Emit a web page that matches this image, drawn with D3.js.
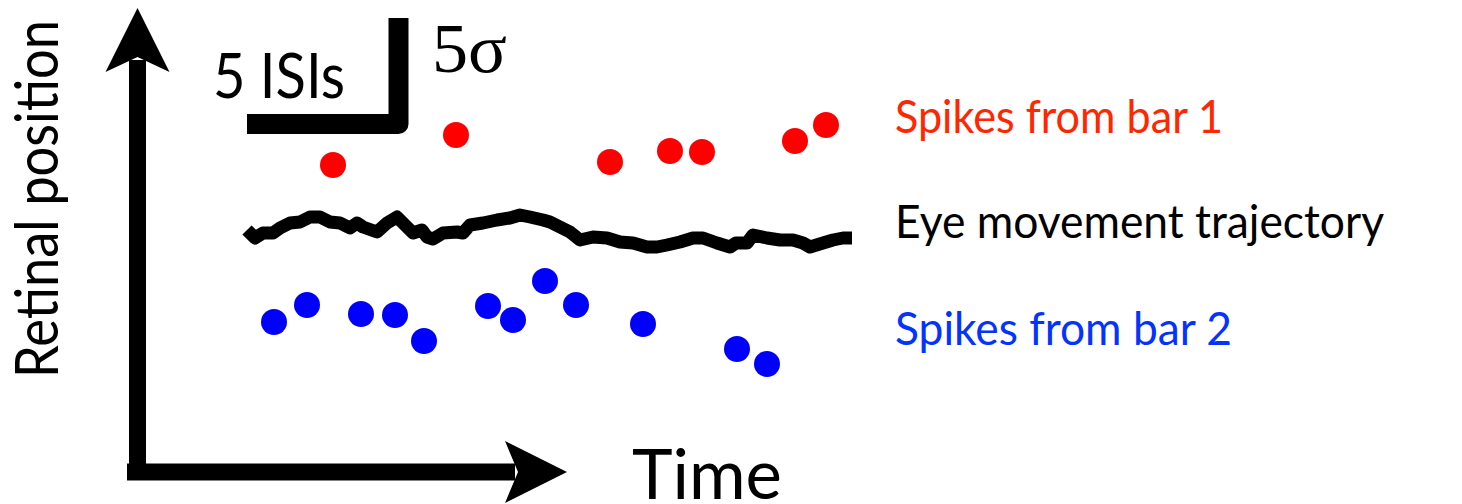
<!DOCTYPE html>
<html>
<head>
<meta charset="utf-8">
<script src="https://cdn.jsdelivr.net/npm/d3@7"></script>
<style>
  body { margin: 0; background: #fff; }
  svg { display: block; }
  text { font-family: Lato, "Open Sans", sans-serif; }
</style>
</head>
<body>
<script>
const width = 1462;
const height = 504;

// spike times (arbitrary time units) and retinal positions
const bar1Times = [8.6, 20.9, 36.3, 42.3, 45.5, 54.8, 57.9];
const bar1Pos   = [30.7, 33.7, 31.0, 32.1, 32.0, 33.1, 34.7];

const bar2Times = [2.7, 6.0, 11.4, 14.8, 17.7, 24.1, 26.6, 29.8, 32.9, 39.6, 49.0, 52.0];
const bar2Pos   = [15.0, 16.7, 15.8, 15.7, 13.1, 16.6, 15.2, 19.1, 16.7, 14.8, 12.3, 10.8];

// eye trajectory
const eyeTimes = [0, 0.8, 1.6, 2.6, 3.3, 4.3, 5.3, 6.3, 7.3, 8.3, 9.3, 10.3, 11.0, 11.6, 13.0,
  14.0, 15.0, 15.6, 16.6, 17.5, 18.0, 18.6, 19.6, 21.0, 21.6, 22.3, 23.6, 25.0, 26.3, 27.3,
  28.3, 29.6, 30.3, 31.3, 32.3, 33.3, 34.6, 36.0, 37.3, 38.6, 40.0, 41.0, 42.0, 43.3, 44.6,
  45.6, 47.0, 48.3, 48.9, 50.0, 50.6, 52.0, 53.3, 54.6, 55.6, 56.3, 57.6, 58.6, 59.6, 60.5];
const eyePos = [24.2, 23.4, 23.9, 23.9, 24.4, 24.9, 25.0, 25.5, 25.5, 25.0, 24.9, 24.4, 24.9, 24.5, 24.0,
  24.9, 25.5, 24.9, 23.9, 24.2, 23.5, 23.3, 23.9, 24.0, 23.9, 24.7, 24.9, 25.2, 25.4, 25.7,
  25.5, 25.2, 25.0, 24.5, 24.0, 23.2, 23.5, 23.4, 23.0, 22.9, 22.5, 22.5, 22.7, 23.0, 23.4,
  23.4, 22.9, 22.5, 22.9, 22.9, 23.7, 23.4, 23.2, 23.2, 22.9, 22.5, 22.9, 23.2, 23.4, 23.4];

const legendLabels = ["Spikes from bar 1", "Eye movement trajectory", "Spikes from bar 2"];
const legendColors = ["#ff2600", "#000000", "#0433ff"];
const legendWidths = [328, 489, 337];

const svg = d3.select("body")
    .append("svg")
    .attr("width", width)
    .attr("height", height);

const x = d3.scaleLinear().domain([0, 61]).range([247, 857]);
const y = d3.scaleLinear().domain([0, 45]).range([472, 22]);

// axes with arrow heads
const axisX0 = 137.5, axisY0 = 472;
svg.append("path")
    .attr("d", `M${axisX0},480 V60`)
    .attr("stroke", "#000").attr("stroke-width", 17).attr("fill", "none");
svg.append("path")
    .attr("d", `M127,${axisY0} H515`)
    .attr("stroke", "#000").attr("stroke-width", 17).attr("fill", "none");
svg.append("path")
    .attr("d", `M${axisX0},8 L${axisX0 + 32},72 L${axisX0},57 L${axisX0 - 32},72 Z`)
    .attr("fill", "#000");
svg.append("path")
    .attr("d", `M567,${axisY0} L505,${axisY0 - 31} L518,${axisY0} L505,${axisY0 + 31} Z`)
    .attr("fill", "#000");

svg.append("text")
    .attr("transform", "translate(58,199) rotate(-90)")
    .attr("text-anchor", "middle")
    .attr("font-size", 60)
    .attr("textLength", 358)
    .attr("lengthAdjust", "spacingAndGlyphs")
    .text("Retinal position");

svg.append("text")
    .attr("x", 632).attr("y", 499)
    .attr("font-size", 69)
    .attr("textLength", 150)
    .attr("lengthAdjust", "spacingAndGlyphs")
    .text("Time");

// scale bar
svg.append("path")
    .attr("d", "M247,124 H398.5 V18")
    .attr("stroke", "#000").attr("stroke-width", 20)
    .attr("stroke-linejoin", "round")
    .attr("fill", "none");
svg.append("text")
    .attr("x", 213).attr("y", 98)
    .attr("font-size", 62)
    .attr("textLength", 132)
    .attr("lengthAdjust", "spacingAndGlyphs")
    .text("5 ISIs");
svg.append("text")
    .attr("x", 432).attr("y", 72)
    .attr("font-size", 70)
    .attr("textLength", 75)
    .attr("lengthAdjust", "spacingAndGlyphs")
    .style("font-family", "'Liberation Serif', 'DejaVu Serif', serif")
    .text("5σ");

// eye trajectory
const line = d3.line()
    .x((d, i) => x(eyeTimes[i]))
    .y(d => y(d));
svg.append("path")
    .datum(eyePos)
    .attr("d", line)
    .attr("fill", "none")
    .attr("stroke", "#000")
    .attr("stroke-width", 13)
    .attr("stroke-linejoin", "round")
    .attr("stroke-linecap", "butt");

// spikes
svg.selectAll("circle.bar1")
    .data(bar1Times)
    .enter()
    .append("circle")
    .attr("class", "bar1")
    .attr("cx", d => x(d))
    .attr("cy", (d, i) => y(bar1Pos[i]))
    .attr("r", 13)
    .attr("fill", "#ff0000");

svg.selectAll("circle.bar2")
    .data(bar2Times)
    .enter()
    .append("circle")
    .attr("class", "bar2")
    .attr("cx", d => x(d))
    .attr("cy", (d, i) => y(bar2Pos[i]))
    .attr("r", 13)
    .attr("fill", "#0000ff");

// legend
const legendY = [133, 238, 345];
svg.selectAll("text.legend")
    .data(legendLabels)
    .enter()
    .append("text")
    .attr("class", "legend")
    .attr("x", 895)
    .attr("y", (d, i) => legendY[i])
    .attr("font-size", 46)
    .attr("textLength", (d, i) => legendWidths[i])
    .attr("lengthAdjust", "spacingAndGlyphs")
    .attr("fill", (d, i) => legendColors[i])
    .text(d => d);
</script>
</body>
</html>
